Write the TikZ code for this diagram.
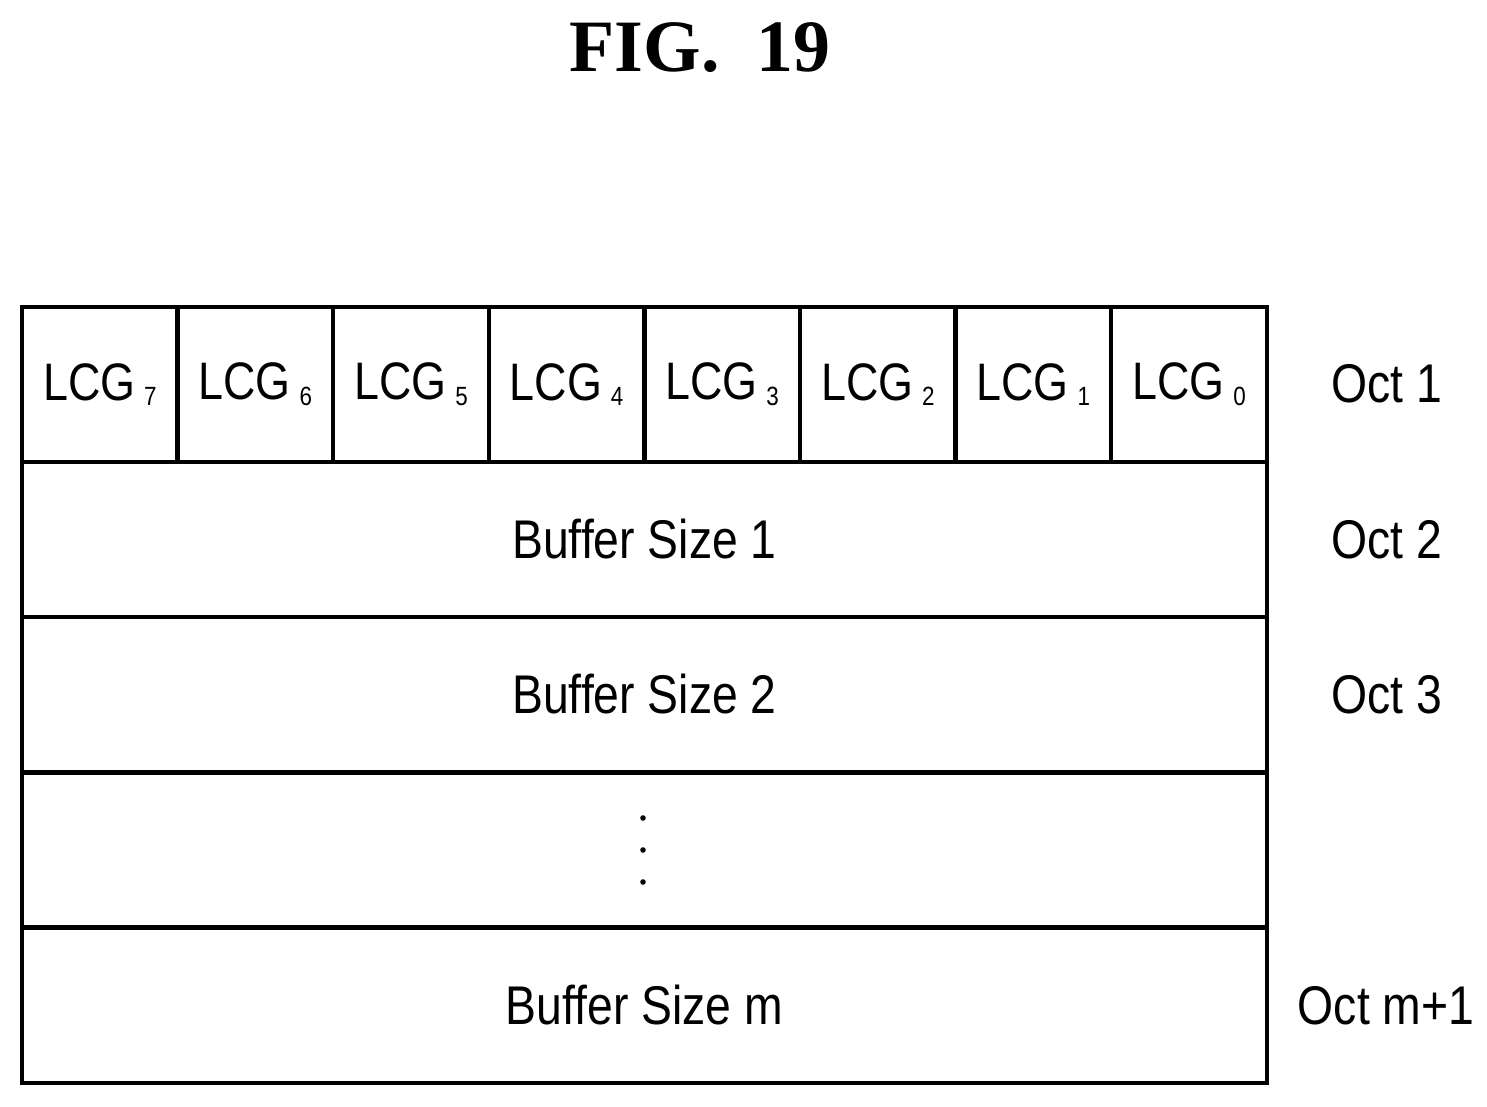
\documentclass[tikz,border=0pt]{standalone}
\usepackage{fontspec}
\setmainfont[FakeStretch=0.85]{Liberation Sans}
\newfontfamily\titlefont{Liberation Serif}
\begin{document}
\begin{tikzpicture}[x=0.01cm,y=-0.01cm,
  cell/.style={draw,line width=1.3pt,minimum width=155.6*0.01cm,minimum height=155*0.01cm,inner sep=0pt,font=\fontsize{15}{18}\selectfont},
  row/.style={draw,line width=1.3pt,minimum width=1245*0.01cm,minimum height=155*0.01cm,inner sep=0pt,font=\fontsize{15.5}{18}\selectfont},
  oct/.style={font=\fontsize{15.5}{18}\selectfont}]
\useasboundingbox (0,0) rectangle (1487,1107);
\node[font=\titlefont\bfseries\fontsize{21}{24}\selectfont] (title) at (700,48) {FIG.\ \ 19};
\foreach \i/\n in {0/7,1/6,2/5,3/4,4/3,5/2,6/1,7/0}{
  \node[cell] (c\n) at ({22+77.8+155.6*\i},384.5) {LCG\,{\fontsize{7.5}{9}\selectfont\raisebox{-0.4ex}{\n}}};
}
\node[row] (r2) at (644.5,539.5) {Buffer Size 1};
\node[row] (r3) at (644.5,694.5) {Buffer Size 2};
\node[row] (r4) at (644.5,850) {};
\node[row] (r5) at (644.5,1005.5) {Buffer Size m};
\foreach \y/\k in {818/a,850/b,882/c}{\fill (643,\y) circle (2.8);}
\node[oct] (o1) at (1387,384) {Oct 1};
\node[oct] (o2) at (1387,540) {Oct 2};
\node[oct] (o3) at (1387,695) {Oct 3};
\node[oct] (o5) at (1386,1006) {Oct m+1};
\end{tikzpicture}
\end{document}
